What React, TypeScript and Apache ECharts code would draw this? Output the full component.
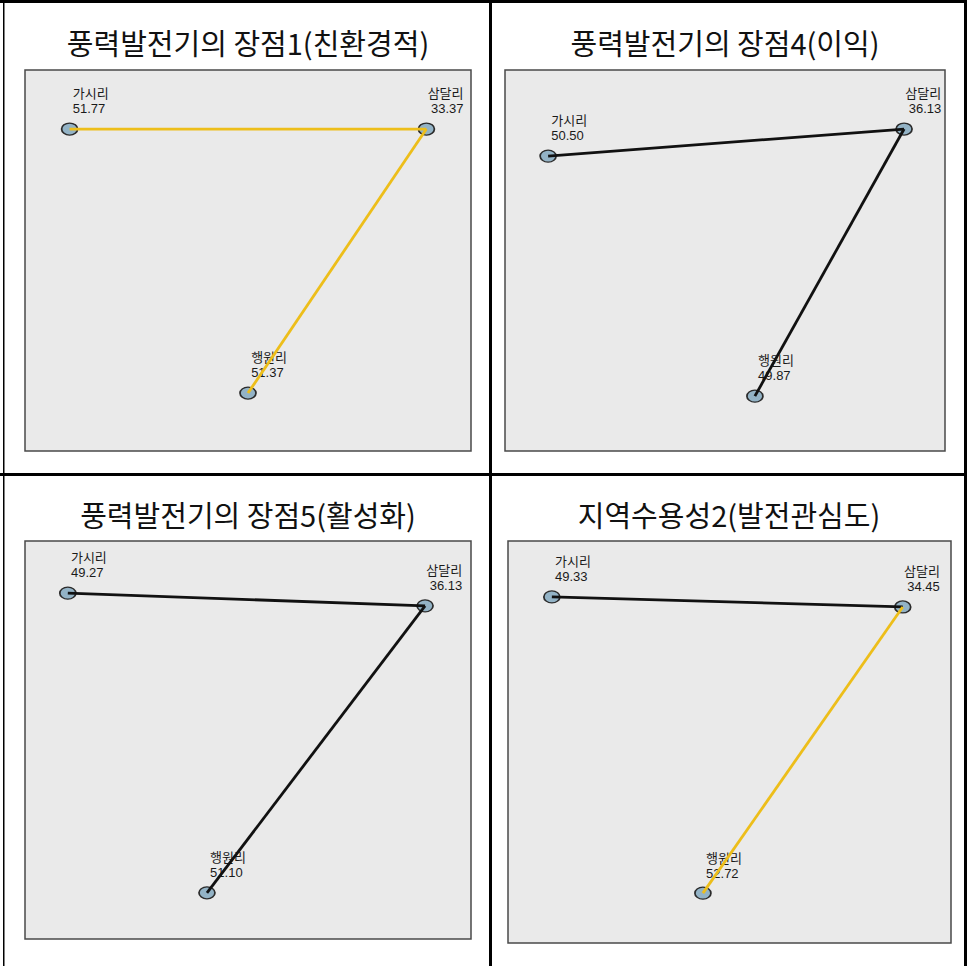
import React, { useEffect, useRef } from 'react';
import * as echarts from 'echarts';

// Villages compared in every panel
const villages = ['가시리', '삼달리', '행원리'];

const panelTitles = [
  '풍력발전기의 장점1(친환경적)',
  '풍력발전기의 장점4(이익)',
  '풍력발전기의 장점5(활성화)',
  '지역수용성2(발전관심도)',
];

// Mean rank of each village, one row per panel
const meanRanks = [
  [51.77, 33.37, 51.37],
  [50.5, 36.13, 49.87],
  [49.27, 36.13, 51.1],
  [49.33, 34.45, 52.72],
];

// Node layout inside each plot (0–100 on both axes)
const layoutX = [
  [10, 90, 50],
  [9.8, 90.7, 56.8],
  [9.6, 89.7, 40.8],
  [9.9, 89.1, 44.0],
];
const layoutY = [
  [84.5, 84.5, 15.2],
  [77.4, 84.5, 14.4],
  [86.9, 83.7, 11.6],
  [86.1, 83.6, 12.4],
];

// Pairwise comparisons drawn as edges, and whether each one is significant
const comparisons: [number, number][] = [
  [0, 1],
  [1, 2],
];
const significant = [
  [true, true],
  [false, false],
  [false, false],
  [false, true],
];

// Panel geometry in pixels
const plotBoxes = [
  { left: 25, top: 70, width: 446, height: 381 },
  { left: 505, top: 70, width: 440, height: 381 },
  { left: 25, top: 541, width: 446, height: 398 },
  { left: 508, top: 541, width: 443, height: 402 },
];
const titleCenters = [
  [248, 42],
  [725, 42],
  [248, 514],
  [729, 514],
];

const W = 967;
const H = 966;
const ELLIPSE = 'path://M0,50A50,50,0,1,0,100,50A50,50,0,1,0,0,50Z';

function buildOption(): echarts.EChartsOption {
  const grid: any[] = [];
  const xAxis: any[] = [];
  const yAxis: any[] = [];
  const series: any[] = [];

  plotBoxes.forEach((b, i) => {
    grid.push({
      ...b,
      show: true,
      backgroundColor: '#EAEAEA',
      borderColor: '#4A4A4A',
      borderWidth: 1.5,
    });
    xAxis.push({ type: 'value', gridIndex: i, min: 0, max: 100, show: false });
    yAxis.push({ type: 'value', gridIndex: i, min: 0, max: 100, show: false });

    series.push({
      type: 'scatter',
      xAxisIndex: i,
      yAxisIndex: i,
      z: 2,
      symbol: ELLIPSE,
      symbolSize: [16, 12],
      itemStyle: { color: '#93B3C6', borderColor: '#2B2B2B', borderWidth: 1.5, opacity: 1 },
      data: villages.map((v, j) => {
        const x = layoutX[i][j];
        const rightSide = x > 75;
        return {
          name: v,
          value: [x, layoutY[i][j]],
          rank: meanRanks[i][j],
          label: {
            position: rightSide ? [46, -36] : [12, -36],
            align: rightSide ? 'right' : 'left',
          },
        };
      }),
      label: {
        show: true,
        verticalAlign: 'top',
        fontFamily: '"Liberation Sans", "Noto Sans CJK KR", sans-serif',
        fontSize: 13,
        lineHeight: 15,
        color: '#1A1A1A',
        formatter: (p: any) => `${p.name}\n${p.data.rank.toFixed(2)}`,
      },
    });

    comparisons.forEach(([a, c], k) => {
      series.push({
        type: 'line',
        xAxisIndex: i,
        yAxisIndex: i,
        z: 3,
        silent: true,
        symbol: 'none',
        lineStyle: { color: significant[i][k] ? '#EDBE1A' : '#111111', width: 2.8 },
        data: [
          [layoutX[i][a], layoutY[i][a]],
          [layoutX[i][c], layoutY[i][c]],
        ],
      });
    });
  });

  const titles = panelTitles.map((t, i) => ({
    type: 'text',
    x: titleCenters[i][0],
    y: titleCenters[i][1],
    style: {
      text: t,
      textAlign: 'center',
      textVerticalAlign: 'middle',
      align: 'center',
      verticalAlign: 'middle',
      fill: '#111',
      font: '29px "Noto Sans CJK KR", sans-serif',
    },
  }));

  const frame = [
    { x: 0, y: 0, width: W, height: 3 },
    { x: 3, y: 0, width: 1.5, height: H },
    { x: W - 3, y: 0, width: 3, height: H },
    { x: 489, y: 0, width: 3, height: H },
    { x: 0, y: 473, width: W, height: 3 },
  ].map((r) => ({ type: 'rect', shape: r, style: { fill: '#000' }, z: 10 }));

  return {
    animation: false,
    backgroundColor: '#FFFFFF',
    grid,
    xAxis,
    yAxis,
    series,
    graphic: [...titles, ...frame] as any,
  };
}

export default function App() {
  const ref = useRef<HTMLDivElement>(null);
  useEffect(() => {
    if (!ref.current) return;
    const chart = echarts.init(ref.current, undefined, { renderer: 'svg' });
    chart.setOption(buildOption());
    return () => chart.dispose();
  }, []);
  return (
    <div
      ref={ref}
      style={{ position: 'fixed', left: 0, top: 0, width: W, height: H, background: '#fff' }}
    />
  );
}
